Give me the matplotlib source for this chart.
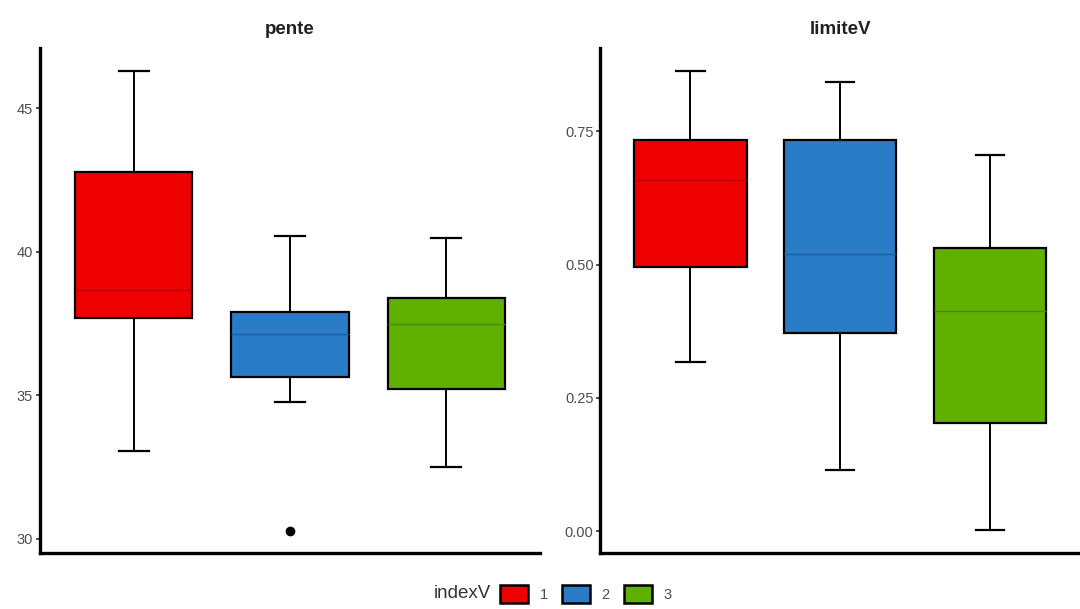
import numpy as np
import matplotlib.pyplot as plt
from matplotlib.patches import Patch

plt.rcParams["font.family"] = ["Liberation Sans", "DejaVu Sans"]

# box statistics (whislo, q1, med, q3, whishi)
groups = ["1", "2", "3"]
colors = ["#EE0000", "#2A7CC6", "#60B000"]
median_colors = ["#B80000", "#1F5F99", "#4A8A00"]

pente_low = [33.06, 34.77, 32.51]
pente_q1 = [37.69, 35.64, 35.22]
pente_med = [38.67, 37.14, 37.48]
pente_q3 = [42.77, 37.90, 38.39]
pente_high = [46.29, 40.55, 40.48]
pente_out = [[], [30.28], []]

lim_low = [0.317, 0.114, 0.002]
lim_q1 = [0.495, 0.371, 0.2025]
lim_med = [0.658, 0.519, 0.4125]
lim_q3 = [0.733, 0.733, 0.531]
lim_high = [0.8625, 0.842, 0.705]
lim_out = [[], [], []]


def make_stats(low, q1, med, q3, high, out):
    stats = []
    for i in range(len(low)):
        stats.append(dict(whislo=low[i], q1=q1[i], med=med[i], q3=q3[i],
                          whishi=high[i], fliers=out[i], label=groups[i]))
    return stats


def draw_panel(ax, stats, title, ylim, yticks, ylabels):
    bp = ax.bxp(stats, positions=[1, 2, 3], widths=0.75, capwidths=0.19,
                patch_artist=True, showfliers=True,
                boxprops=dict(edgecolor="black", linewidth=1.6),
                whiskerprops=dict(color="black", linewidth=1.4),
                capprops=dict(color="black", linewidth=1.6),
                medianprops=dict(linewidth=1.0),
                flierprops=dict(marker="o", markerfacecolor="black",
                                markeredgecolor="black", markersize=6))
    for i, box in enumerate(bp["boxes"]):
        box.set_facecolor(colors[i])
        bp["medians"][i].set_color(median_colors[i])
    ax.set_xlim(0.4, 3.6)
    ax.set_ylim(*ylim)
    ax.set_yticks(yticks)
    ax.set_yticklabels(ylabels, color="#4D4D4D", fontsize=10.5)
    ax.set_xticks([])
    ax.spines["top"].set_visible(False)
    ax.spines["right"].set_visible(False)
    ax.spines["left"].set_linewidth(2.4)
    ax.spines["bottom"].set_linewidth(2.4)
    ax.tick_params(axis="y", length=3, width=1.2, color="#333333", pad=2)
    ax.set_title(title, fontsize=13.5, fontweight="bold", color="#222222", pad=10)


fig = plt.figure(figsize=(10.8, 6.09), dpi=100)
ax1 = fig.add_axes([0.037, 0.092, 0.463, 0.829])
ax2 = fig.add_axes([0.556, 0.092, 0.444, 0.829])

draw_panel(ax1, make_stats(pente_low, pente_q1, pente_med, pente_q3, pente_high, pente_out),
           "pente", (29.51, 47.09), [30, 35, 40, 45], ["30", "35", "40", "45"])
draw_panel(ax2, make_stats(lim_low, lim_q1, lim_med, lim_q3, lim_high, lim_out),
           "limiteV", (-0.041, 0.906), [0.0, 0.25, 0.5, 0.75],
           ["0.00", "0.25", "0.50", "0.75"])

# legend along the bottom
handles = [Patch(facecolor=c, edgecolor="black", linewidth=1.8) for c in colors]
fig.text(0.455, 0.025, "indexV", fontsize=13.5, color="#333333", ha="right", va="center")
fig.legend(handles, groups, loc="center left", bbox_to_anchor=(0.455, 0.025),
           ncol=3, frameon=False, fontsize=10.5, handlelength=1.9, handleheight=1.5,
           columnspacing=1.0, handletextpad=0.8, labelcolor="#4D4D4D",
           borderpad=0.1)

plt.savefig("out.png", dpi=100)
plt.close()
